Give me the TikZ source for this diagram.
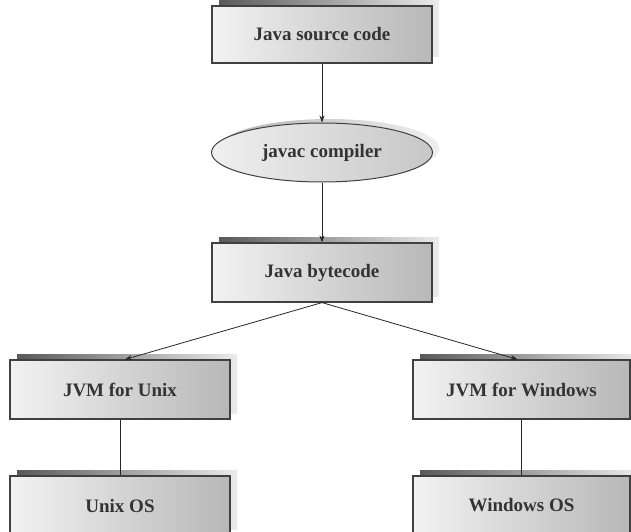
\documentclass[tikz,border=0pt]{standalone}
\usepackage{fontspec}
\setmainfont{Liberation Serif}
\usetikzlibrary{arrows.meta,shapes.geometric,shadows}
\tikzset{
  boxbase/.style={draw=black!75, line width=1.2pt, left color=black!5, right color=black!28,
    text=black!80, font=\bfseries\fontsize{19}{21}\selectfont, inner sep=0pt},
  stepbox/.style={boxbase, rectangle, minimum width=#1, minimum height=59pt,
    general shadow={shadow xshift=7pt, shadow yshift=6pt, left color=black!65, right color=black!8, draw=none}},
  stepbox/.default=220pt,
  ovalbox/.style={boxbase, ellipse, minimum width=221pt, minimum height=59pt, line width=1pt,
    left color=black!6, right color=black!22,
    general shadow={shadow xshift=7pt, shadow yshift=4pt, left color=black!30, right color=black!6, draw=none}},
  arr/.style={draw=black!85, line width=0.8pt, -{Stealth[length=7pt,width=5pt]}},
  ln/.style={draw=black!85, line width=0.9pt}
}
\begin{document}
\begin{tikzpicture}[x=1pt,y=-1pt]
\useasboundingbox (0,0) rectangle (631,532);
\node[stepbox, minimum height=57pt] (src) at (322,34.5) {Java source code};
\node[ovalbox] (jc) at (322,152.5) {javac compiler};
\node[stepbox] (bc) at (322,272.5) {Java bytecode};
\node[stepbox] (ju) at (120,389.5) {JVM for Unix};
\node[stepbox=217pt] (jw) at (521.5,389.5) {JVM for Windows};
\node[stepbox] (uo) at (120,505.5) {Unix OS};
\node[stepbox=217pt] (wo) at (521.5,505.5) {Windows OS};
\draw[arr] (src.south) -- (jc.north);
\draw[arr] (jc.south) -- (bc.north);
\draw[arr] (bc.south) -- ([xshift=5pt]ju.north);
\draw[arr] (bc.south) -- ([xshift=-4pt]jw.north);
\draw[ln] (ju.south) -- (uo.north);
\draw[ln] (jw.south) -- (wo.north);
\end{tikzpicture}
\end{document}
